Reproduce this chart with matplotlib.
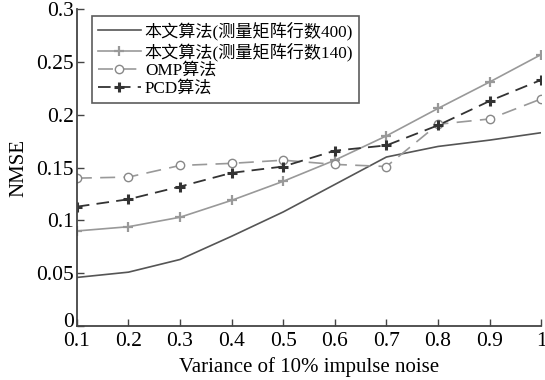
import numpy as np
import matplotlib.pyplot as plt
import matplotlib.transforms as mtransforms

plt.rcParams['font.family'] = ['Liberation Serif', 'Noto Sans CJK SC']

x = [0.1, 0.2, 0.3, 0.4, 0.5, 0.6, 0.7, 0.8, 0.9, 1.0]
ours_400 = [0.046, 0.051, 0.063, 0.085, 0.108, 0.134, 0.160, 0.170, 0.176, 0.183]
ours_140 = [0.090, 0.094, 0.103, 0.119, 0.137, 0.157, 0.180, 0.206, 0.231, 0.257]
omp = [0.140, 0.141, 0.152, 0.154, 0.157, 0.153, 0.151, 0.191, 0.196, 0.215]
pcd = [0.113, 0.120, 0.132, 0.145, 0.151, 0.166, 0.171, 0.190, 0.213, 0.233]

labels = ['本文算法(测量矩阵行数400)', '本文算法(测量矩阵行数140)', 'OMP算法', 'PCD算法']

fig = plt.figure(figsize=(5.45, 3.8), dpi=100)
ax = fig.add_axes([0.141, 0.142, 0.852, 0.834])

ax.plot(x, ours_400, color='#555555', lw=1.2, label=labels[0])
ax.plot(x, ours_140, color='#999999', lw=1.2, marker='+', ms=7, mew=1.6, label=labels[1])
ax.plot(x, omp, color='#999999', lw=1.2, ls=(0, (9, 5)), marker='o', ms=6,
        mfc='white', mec='#888888', label=labels[2])
ax.plot(x, pcd, color='#333333', lw=1.3, ls=(0, (7, 4)), marker='+', ms=7, mew=2.2,
        label=labels[3])

ax.set_xlim(0.1, 1.0)
ax.set_ylim(0, 0.3)
ax.set_xticks(x)
ax.set_xticklabels(['0.1', '0.2', '0.3', '0.4', '0.5', '0.6', '0.7', '0.8', '0.9', '1'])
ax.set_yticks([0, 0.05, 0.1, 0.15, 0.2, 0.25, 0.3])
ax.set_yticklabels(['0', '0.05', '0.1', '0.15', '0.2', '0.25', '0.3'])
ax.tick_params(direction='in', labelsize=15.5, length=5, width=1, color='#444444')
ax.tick_params(axis='x', pad=4)
ax.tick_params(axis='y', pad=2)
for s in ['top', 'right']:
    ax.spines[s].set_visible(False)
for s in ['left', 'bottom']:
    ax.spines[s].set_color('#444444')
    ax.spines[s].set_linewidth(1.3)

# lift the "0" label a little so it clears the x tick labels
zero = ax.get_yticklabels()[0]
zero.set_transform(zero.get_transform() + mtransforms.ScaledTranslation(0, 4 / 72, fig.dpi_scale_trans))

ax.set_xlabel('Variance of 10% impulse noise', fontsize=15, labelpad=5)
ax.set_ylabel('NMSE', fontsize=15, labelpad=6)

leg = ax.legend(loc='upper left', bbox_to_anchor=(0.025, 0.99), fontsize=12.3,
                frameon=True, fancybox=False, handlelength=2.5, handletextpad=0.25,
                labelspacing=0.12, borderpad=0.35, borderaxespad=0.2)
leg.get_frame().set_edgecolor('#333333')
leg.get_frame().set_linewidth(1.2)

fig.savefig('out.png', dpi=100)
